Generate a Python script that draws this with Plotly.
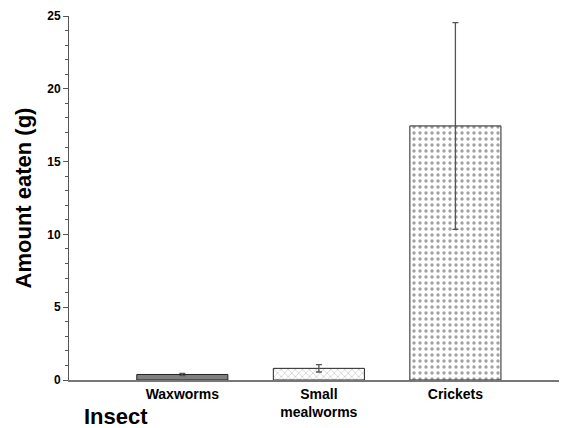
import plotly.graph_objects as go

categories = ["Waxworms", "Small<br>mealworms", "Crickets"]
means = [0.38, 0.8, 17.45]
errors = [0.08, 0.25, 7.1]
y_ticks = [0, 5, 10, 15, 20, 25]

fills = ["#808080", "white", "white"]
shapes = ["", "x", "."]

fig = go.Figure()
fig.add_trace(go.Bar(
    x=[0, 1, 2], y=means,
    width=0.667,
    marker=dict(
        color=fills,
        line=dict(color="#222222", width=1),
        pattern=dict(shape=shapes, fgcolor="#222222", bgcolor="white",
                     size=[6, 5, 6], solidity=[0.3, 0.15, 0.25]),
    ),
    error_y=dict(type="data", array=errors, visible=True,
                 color="#555555", thickness=1.3, width=3),
    showlegend=False,
))

font = "Liberation Sans, Arial, sans-serif"
W, H = 559, 420
L, R, T, B = 61, 1, 8, 48
fig.update_layout(
    width=W, height=H,
    margin=dict(l=L, r=R, t=T, b=B),
    paper_bgcolor="white", plot_bgcolor="white",
    font=dict(family=font, color="black"),
    xaxis=dict(
        range=[-0.83, 2.81],
        tickmode="array", tickvals=[0, 1, 2],
        ticktext=["<b>%s</b>" % c.replace("<br>", "</b><br><b>") for c in categories],
        tickfont=dict(size=14, family=font),
        ticks="", showline=True, linecolor="#777777", linewidth=1.5,
        showgrid=False, zeroline=False,
    ),
    yaxis=dict(
        range=[0, 25],
        tickmode="array", tickvals=y_ticks,
        ticktext=["<b>%d</b>" % v for v in y_ticks],
        tickfont=dict(size=12, family=font),
        ticks="outside", ticklen=5, tickcolor="#555555", tickwidth=1,
        minor=dict(dtick=1, ticks="outside", ticklen=3, tickcolor="#555555", tickwidth=1),
        showline=True, linecolor="#555555", linewidth=1,
        showgrid=False, zeroline=False,
        title=dict(text="<b>Amount eaten (g)</b>", font=dict(size=22, family=font), standoff=9),
    ),
    annotations=[dict(
        text="<b>Insect</b>", showarrow=False, font=dict(size=22, family=font),
        xref="paper", yref="paper",
        x=(74 - L) / (W - L - R), y=-(408 - (H - B)) / (H - B - T),
        xanchor="left", yanchor="middle",
    )],
)
fig.write_html("out.html")
